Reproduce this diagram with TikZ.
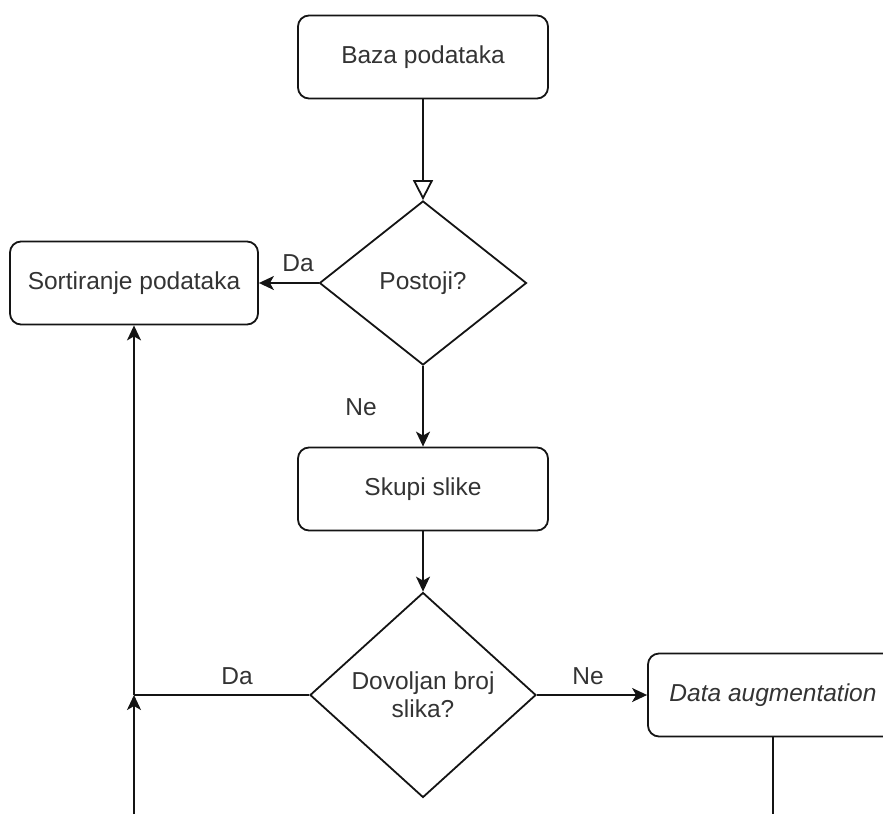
\documentclass[tikz,border=0pt]{standalone}
\usepackage{fontspec}
\setmainfont{Liberation Sans}
\usetikzlibrary{
    arrows.meta,      % For arrow tips
    shapes.geometric, % For the decision diamonds
    positioning       % For relative placement
}
\definecolor{textgray}{RGB}{51,51,51}
\definecolor{linegray}{RGB}{20,20,20}

\begin{document}
\begin{tikzpicture}[
    x=1pt, y=-1pt, % one unit = one pixel of the sketch, y downwards
    >={Stealth[length=15pt, width=14pt, inset=4pt]}, % Default arrow tip
    line/.style={draw=linegray, line width=1.8pt},
    stepbox/.style={line, rounded corners=11pt, minimum width=250pt, minimum height=83pt,
        inner sep=0pt, text=textgray, font=\fontsize{24.5}{28}\selectfont},
    choice/.style={line, diamond, inner sep=0pt, align=center,
        text=textgray, font=\fontsize{24.5}{28}\selectfont},
    answer/.style={text=textgray, inner sep=0pt, font=\fontsize{24.5}{28}\selectfont}
]
    % Fix the frame of the page
    \useasboundingbox (0,0) rectangle (883,814);
    \clip (0,0) rectangle (883,814);

    % Process steps
    \node[stepbox] (baza) at (423,57) {Baza podataka};
    \node[stepbox, minimum width=248pt] (sort) at (134,283) {Sortiranje podataka};
    \node[stepbox] (skupi) at (423,489) {Skupi slike};
    \node[stepbox] (augment) at (773,695) {\itshape Data augmentation};

    % Decisions
    \node[choice, minimum width=207pt, minimum height=164pt] (postoji) at (423,283) {Postoji?};
    \node[choice, minimum width=226pt, minimum height=205pt] (dovoljno) at (423,695) {Dovoljan broj\\slika?};

    % Junction and loose ends at the bottom edge
    \coordinate (join) at (sort.south |- dovoljno.west);
    \coordinate (leftend) at (sort.south |- 0,814);
    \coordinate (rightend) at (augment.south |- 0,814);

    % Connectors
    \draw[line, -{Triangle[open, length=20pt, width=20pt, fill=white]}] (baza) -- (postoji);
    \draw[line, ->] (postoji.west) -- (sort.east);
    \draw[line, ->] (postoji) -- (skupi);
    \draw[line, ->] (skupi) -- (dovoljno);
    \draw[line] (dovoljno.west) -- (join);
    \draw[line, ->] (join) -- (sort.south);
    \draw[line, ->] (leftend) -- (join);
    \draw[line, ->] (dovoljno.east) -- (augment.west);
    \draw[line] (augment.south) -- (rightend);

    % Answer labels
    \node[answer] (da1) at (298,263.5) {Da};
    \node[answer] (ne1) at (361,407.5) {Ne};
    \node[answer] (da2) at (237,676) {Da};
    \node[answer] (ne2) at (588,676) {Ne};

\end{tikzpicture}
\end{document}
